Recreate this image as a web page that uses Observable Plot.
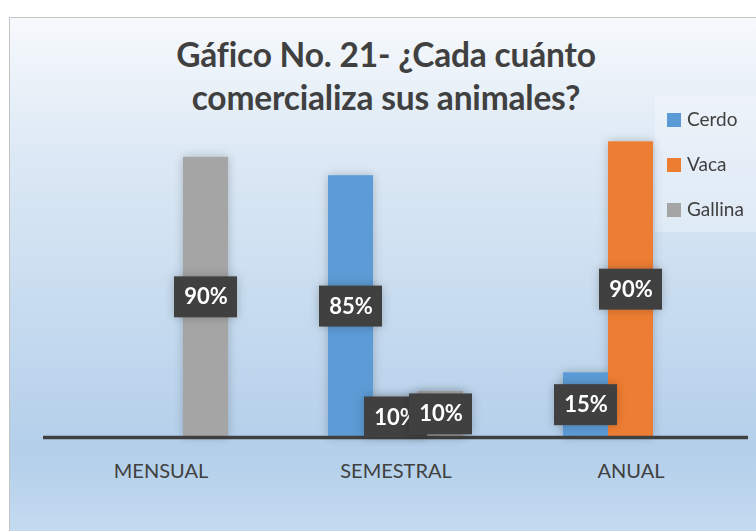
<!DOCTYPE html>
<html><head><meta charset="utf-8">
<script src="https://cdn.jsdelivr.net/npm/d3@7"></script>
<script src="https://cdn.jsdelivr.net/npm/@observablehq/plot@0.6"></script>
<style>
body{margin:0;background:#fff;}
#chart{position:relative;width:756px;height:531px;overflow:hidden;font-family:Lato,"Open Sans",sans-serif;}
#bg{position:absolute;left:9px;top:17px;width:760px;height:530px;border:1.5px solid #c4c4c4;
 background:linear-gradient(#f6f9fc 0%, #dde9f5 25%, #b3cfea 82%, #c8ddf1 100%);}
#legendbox{position:absolute;left:655px;top:96px;width:110px;height:136px;background:rgba(255,255,255,0.28);}
#plot{position:absolute;left:0;top:0;}
#title{position:absolute;left:0;width:772px;top:33px;text-align:center;font-weight:bold;font-size:33.5px;line-height:43px;color:#404040;letter-spacing:-0.2px;}
.li{position:absolute;left:667px;font-size:19px;color:#404040;line-height:20px;}
.li span{display:inline-block;width:14px;height:14px;margin-right:6px;vertical-align:-1px;}
</style></head>
<body>
<div id="chart">
  <div id="bg"></div>
  <div id="legendbox"></div>
  <div id="plot"></div>
  <div id="title">Gáfico No. 21- ¿Cada cuánto<br>comercializa sus animales?</div>
  <div id="legend"></div>
</div>
<script>
const categories = ["MENSUAL", "SEMESTRAL", "ANUAL"];
const seriesNames = ["Cerdo", "Vaca", "Gallina"];
const seriesColors = ["#5b9bd5", "#ed7d31", "#a5a5a5"];
// bar heights as drawn (percent)
const cerdo = [0, 85, 21];
const vaca = [0, 13, 96];
const gallina = [91, 15, 0];
// data labels as printed
const cerdoLabels = ["", "85%", "15%"];
const vacaLabels = ["", "10%", "90%"];
const gallinaLabels = ["90%", "10%", ""];

const rows = [];
[[cerdo, cerdoLabels], [vaca, vacaLabels], [gallina, gallinaLabels]].forEach(([vals, labs], si) => {
  categories.forEach((c, ci) => rows.push({cat: c, series: seriesNames[si], value: vals[ci], label: labs[ci]}));
});

const BOX = "#404041";
const marks = [
  Plot.barY(rows.filter(r => r.value > 0), {fx: "cat", x: "series", y: "value", fill: "series"}),
  Plot.ruleY([0], {stroke: "#404040", strokeWidth: 3.5})
];
seriesNames.forEach(s => {
  const d = rows.filter(r => r.series === s && r.label);
  marks.push(Plot.barY(d, {fx: "cat", x: "series", y1: r => r.value / 2, y2: r => r.value / 2, fill: BOX,
    insetLeft: -9, insetRight: -9, insetTop: -20.5, insetBottom: -20.5}));
  marks.push(Plot.text(d, {fx: "cat", x: "series", y: r => r.value / 2, text: "label", fill: "white",
    fontWeight: "bold", fontSize: 22, fontFamily: "Lato"}));
});

const svg = Plot.plot({
  width: 756, height: 531,
  marginLeft: 42, marginRight: 7, marginTop: 129, marginBottom: 94,
  style: {fontFamily: "Lato", fontSize: "20px", color: "#404040", background: "transparent"},
  fx: {domain: categories, padding: 0, axis: "bottom", tickSize: 0, tickPadding: 26, label: null},
  x: {domain: seriesNames, paddingInner: 0, paddingOuter: 1.06, axis: null},
  y: {domain: [0, 100], axis: null},
  color: {domain: seriesNames, range: seriesColors},
  marks
});

const s = d3.select(svg);
s.insert("defs", ":first-child").html(`
<pattern id="dots" width="4" height="4" patternUnits="userSpaceOnUse">
  <rect width="4" height="4" fill="#3e3e3e"/><circle cx="2" cy="2" r="0.7" fill="#585858"/>
</pattern>
<filter id="glow" x="-60%" y="-20%" width="220%" height="140%">
  <feDropShadow dx="0" dy="0" stdDeviation="5" flood-color="#000" flood-opacity="0.22"/>
</filter>
<filter id="lshadow" x="-30%" y="-30%" width="160%" height="170%">
  <feDropShadow dx="2" dy="3" stdDeviation="2.5" flood-color="#000" flood-opacity="0.4"/>
</filter>`);
s.selectAll('g[aria-label="bar"]').each(function() {
  const g = d3.select(this);
  if (g.attr("fill") === BOX) g.attr("fill", "url(#dots)").attr("filter", "url(#lshadow)");
  else g.attr("filter", "url(#glow)");
});
document.getElementById("plot").appendChild(svg);

const legend = document.getElementById("legend");
const legendTops = [109, 154, 199];
seriesNames.forEach((n, i) => {
  const el = document.createElement("div");
  el.className = "li";
  el.style.top = legendTops[i] + "px";
  el.innerHTML = `<span style="background:${seriesColors[i]}"></span>${n}`;
  legend.appendChild(el);
});
</script>
</body></html>
